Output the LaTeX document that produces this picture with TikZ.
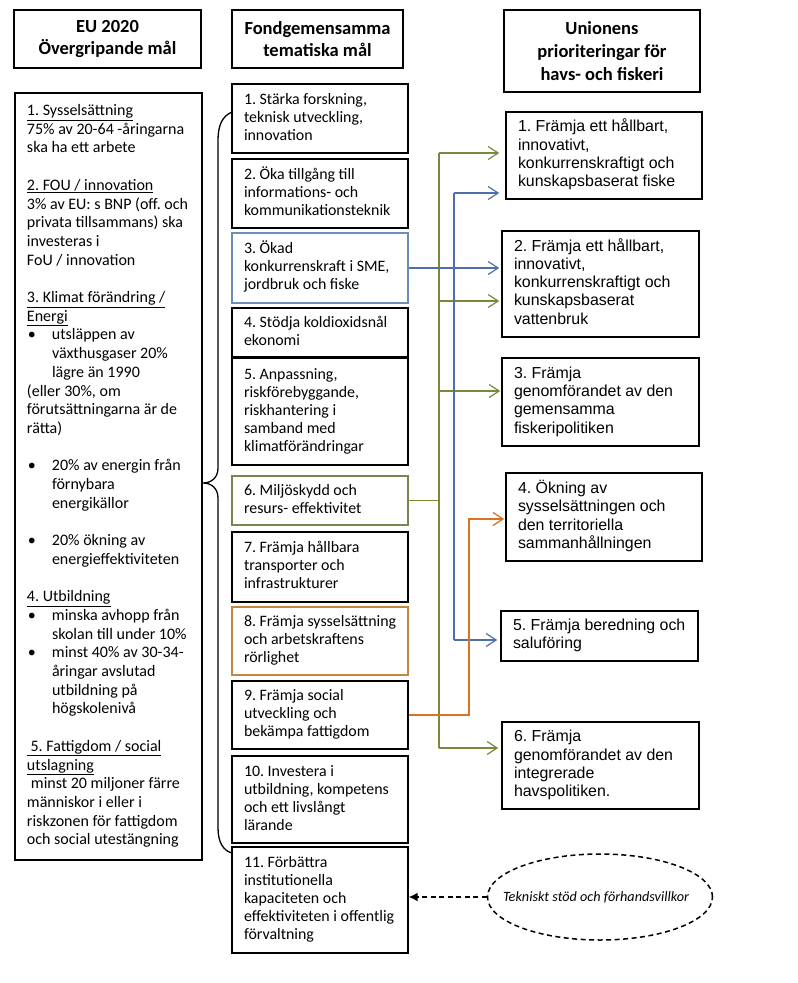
\documentclass[tikz,border=0pt]{standalone}
\usepackage{fontspec}
\setmainfont{Carlito}
\newfontfamily\arialf{Liberation Sans}
\usetikzlibrary{arrows.meta,shapes.geometric}
\definecolor{olivec}{RGB}{118,138,58}
\definecolor{bluec}{RGB}{78,112,170}
\definecolor{orangec}{RGB}{218,115,35}
\definecolor{box3c}{RGB}{110,140,185}
\definecolor{box6c}{RGB}{125,130,80}
\definecolor{box8c}{RGB}{195,135,65}
\frenchspacing
\newcommand{\bul}{\makebox[25pt][l]{\hspace{1pt}\textbullet}}
\newcommand{\ind}{\hspace*{25pt}}
\newcommand{\txtlines}[2]{\makebox[#1][l]{\begin{tabular}{@{}l@{}}#2\end{tabular}}}
\begin{document}
\begin{tikzpicture}[x=1pt,y=-1pt,
  hdr/.style={draw, line width=2pt, align=center, inner sep=0pt,
    font=\fontsize{18.5}{22.8}\selectfont\bfseries},
  leftbox/.style={draw, line width=1.5pt, inner xsep=12pt, inner ysep=0pt,
    minimum width=187pt, minimum height=767pt,
    font=\fontsize{16}{18.7}\selectfont},
  midbox/.style={draw, line width=1.4pt, inner xsep=12pt, inner ysep=0pt,
    minimum width=176pt, font=\fontsize{15.9}{18}\selectfont},
  rightbox/.style={draw, line width=1.6pt, inner xsep=12pt, inner ysep=0pt,
    font=\arialf\fontsize{15.9}{18.3}\selectfont},
  gline/.style={draw=olivec, line width=1.2pt},
  bline/.style={draw=bluec, line width=1.2pt},
  oline/.style={draw=orangec, line width=1.3pt},
  barb/.style={-{Straight Barb[length=10pt,width=13pt]}}
]
\useasboundingbox (0,0) rectangle (798,983);
\fill[white] (0,0) rectangle (798,983);

% headers
\node[hdr, minimum width=187pt, minimum height=58pt] (h1) at (107.5,39) {EU 2020\\Övergripande mål};
\node[hdr, minimum width=171pt, minimum height=58pt] (h2) at (317.5,39) {Fondgemensamma\\tematiska mål};
\node[hdr, minimum width=196pt, minimum height=82pt] (h3) at (602,51) {Unionens\\prioriteringar för\\havs- och fiskeri};

% left box
\node[leftbox] (L) at (108.5,476.5) {\txtlines{163pt}{%
\underline{1. Sysselsättning}\\
75\% av 20-64 -åringarna\\
ska ha ett arbete\\
\\
\underline{2. FOU / innovation}\\
3\% av EU: s BNP (off. och\\
privata tillsammans) ska\\
investeras i\\
FoU / innovation\\
\\
\underline{3. Klimat förändring /}\\
\underline{Energi}\\
\bul utsläppen av\\
\ind växthusgaser 20\%\\
\ind lägre än 1990\\
(eller 30\%, om\\
förutsättningarna är de\\
rätta)\\
\\
\bul 20\% av energin från\\
\ind förnybara\\
\ind energikällor\\
\\
\bul 20\% ökning av\\
\ind energieffektiviteten\\
\\
\underline{4. Utbildning}\\
\bul minska avhopp från\\
\ind skolan till under 10\%\\
\bul minst 40\% av 30-34-\\
\ind åringar avslutad\\
\ind utbildning på\\
\ind högskolenivå\\
\\
\underline{\ 5. Fattigdom / social}\\
\underline{utslagning}\\
\hspace*{4pt}minst 20 miljoner färre\\
människor i eller i\\
riskzonen för fattigdom\\
och social utestängning}};

% middle boxes
\node[midbox, minimum height=69pt] (m1) at (320,118.5) {\txtlines{152pt}{1. Stärka forskning,\\teknisk utveckling,\\innovation}};
\node[midbox, minimum height=69pt] (m2) at (320,193.5) {\txtlines{152pt}{2. Öka tillgång till\\informations- och\\kommunikationsteknik}};
\node[midbox, draw=box3c, line width=1.1pt, minimum height=70pt] (m3) at (320,268) {\txtlines{152pt}{3. Ökad\\konkurrenskraft i SME,\\jordbruk och fiske}};
\node[midbox, minimum height=49pt] (m4) at (320,332.5) {\txtlines{152pt}{4. Stödja koldioxidsnål\\ekonomi}};
\node[midbox, minimum height=107pt] (m5) at (320,411.5) {\txtlines{152pt}{5. Anpassning,\\riskförebyggande,\\riskhantering i\\samband med\\klimatförändringar}};
\node[midbox, draw=box6c, line width=1.1pt, minimum height=49pt] (m6) at (320,500.5) {\txtlines{152pt}{6. Miljöskydd och\\resurs- effektivitet}};
\node[midbox, minimum height=70pt] (m7) at (320,567) {\txtlines{152pt}{7. Främja hållbara\\transporter och\\infrastrukturer}};
\node[midbox, draw=box8c, line width=1.1pt, minimum height=68pt] (m8) at (320,641) {\txtlines{152pt}{8. Främja sysselsättning\\och arbetskraftens\\rörlighet}};
\node[midbox, minimum height=68pt] (m9) at (320,715) {\txtlines{152pt}{9. Främja social\\utveckling och\\bekämpa fattigdom}};
\node[midbox, minimum height=87pt] (m10) at (320,799.5) {\txtlines{152pt}{10. Investera i\\utbildning, kompetens\\och ett livslångt\\lärande}};
\node[midbox, minimum height=106pt] (m11) at (320,900) {\txtlines{152pt}{11. Förbättra\\institutionella\\kapaciteten och\\effektiviteten i offentlig\\förvaltning}};

% right boxes
\node[rightbox, minimum height=87pt] (r1) at (604,155.5) {\txtlines{172pt}{1. Främja ett hållbart,\\innovativt,\\konkurrenskraftigt och\\kunskapsbaserat fiske}};
\node[rightbox, minimum height=106pt] (r2) at (600.5,284) {\txtlines{173pt}{2. Främja ett hållbart,\\innovativt,\\konkurrenskraftigt och\\kunskapsbaserat\\vattenbruk}};
\node[rightbox, minimum height=88pt] (r3) at (600.5,402) {\txtlines{173pt}{3. Främja\\genomförandet av den\\gemensamma\\fiskeripolitiken}};
\node[rightbox, minimum height=88pt] (r4) at (604,517) {\txtlines{172pt}{4. Ökning av\\sysselsättningen och\\den territoriella\\sammanhållningen}};
\node[rightbox, minimum height=50pt] (r5) at (599.5,636) {\txtlines{173pt}{5. Främja beredning och\\saluföring}};
\node[rightbox, minimum height=87pt] (r6) at (600.5,765.5) {\txtlines{173pt}{6. Främja\\genomförandet av den\\integrerade\\havspolitiken.}};

% ellipse
\node[ellipse, draw, dashed, dash pattern=on 5pt off 3.5pt, line width=1.5pt,
  minimum width=225pt, minimum height=86pt, inner sep=0pt,
  font=\fontsize{14.2}{16}\selectfont\itshape] (ell) at (600,897) {\makebox[0pt]{\hspace*{-8pt}Tekniskt stöd och förhandsvillkor}};
\draw[dashed, dash pattern=on 5pt off 3.5pt, line width=1.5pt, -{Latex[length=9pt,width=9pt]}]
  (ell.west) -- (ell.west -| m11.east);

% brace
\draw[line width=1.3pt] (232,112) .. controls (222,116) and (218,126) .. (218,140)
  -- (218,468) .. controls (218,478) and (211,483) .. (203,483)
  .. controls (211,483) and (218,488) .. (218,498)
  -- (218,828) .. controls (218,843) and (224,851) .. (232,853);

% olive connectors
\coordinate (gtop) at (439,153);
\coordinate (g2) at (439,301);
\coordinate (g3) at (439,391);
\coordinate (gbot) at (439,748);
\draw[gline] (gtop) -- (gbot);
\draw[gline] (m6.east) -- (m6.east -| gtop);
\draw[gline, barb, shorten >=6pt] (gtop) -- (gtop -| r1.west);
\draw[gline, barb, shorten >=2pt] (g2) -- (g2 -| r2.west);
\draw[gline, barb, shorten >=1pt] (g3) -- (g3 -| r3.west);
\draw[gline, barb, shorten >=3pt] (gbot) -- (gbot -| r6.west);

% blue connectors
\coordinate (btop) at (454,193);
\coordinate (bbot) at (454,640);
\draw[bline] (btop) -- (bbot);
\draw[bline, barb, shorten >=6pt] (btop) -- (btop -| r1.west);
\draw[bline, barb, shorten >=2pt] (m3.east) -- (m3.east -| r2.west);
\draw[bline, barb, shorten >=3pt] (bbot) -- (bbot -| r5.west);

% orange connector
\coordinate (oc) at (469,519);
\draw[oline, barb, shorten >=1pt] (m9.east) -| (oc) -- (oc -| r4.west);
\end{tikzpicture}
\end{document}
